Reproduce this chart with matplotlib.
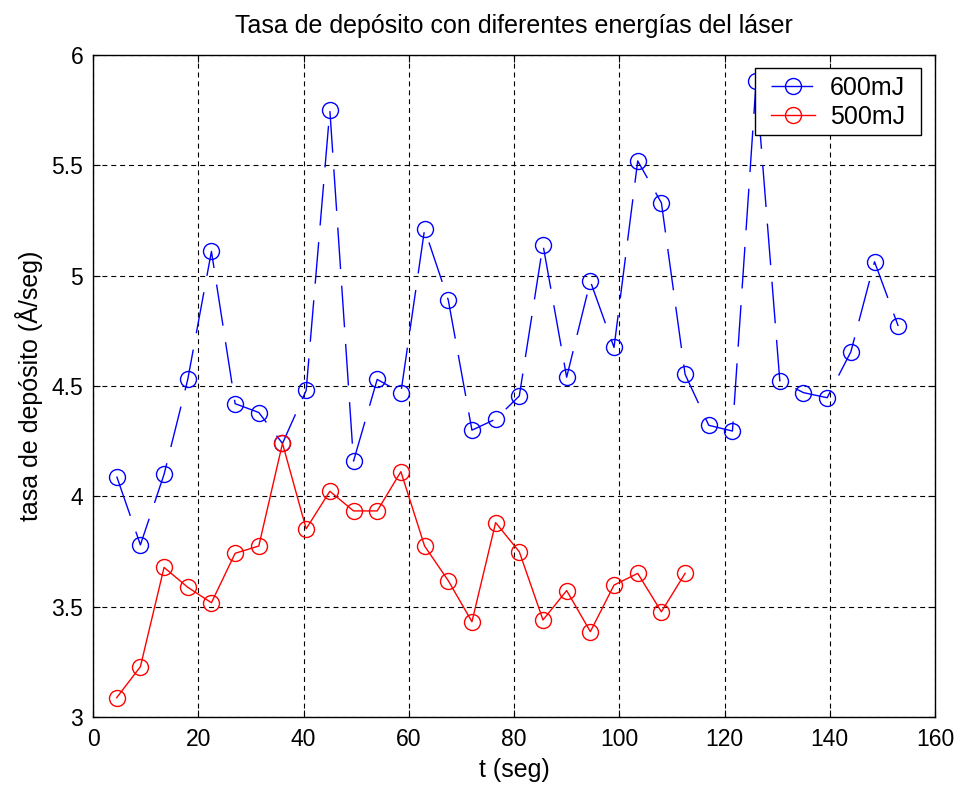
import matplotlib
matplotlib.use("Agg")
import matplotlib.pyplot as plt
from matplotlib.patches import Rectangle
import numpy as np

plt.rcParams['font.family'] = ['Liberation Sans', 'DejaVu Sans']

# Sampling times (s)
t_600 = [4.5 * (i + 1) for i in range(34)]
t_500 = [4.5 * (i + 1) for i in range(25)]

# Deposition rate (Å/seg) for each laser energy
rate_600 = [4.09, 3.78, 4.10, 4.53, 5.11, 4.42, 4.38, 4.24, 4.48, 5.75,
            4.16, 4.53, 4.47, 5.21, 4.89, 4.30, 4.35, 4.455, 5.14, 4.54,
            4.975, 4.675, 5.52, 5.33, 4.553, 4.322, 4.296, 5.88, 4.524, 4.47,
            4.447, 4.655, 5.063, 4.772]
rate_500 = [3.088, 3.228, 3.678, 3.588, 3.518, 3.742, 3.775, 4.24, 3.853, 4.023,
            3.934, 3.934, 4.112, 3.775, 3.618, 3.432, 3.881, 3.749, 3.44, 3.573,
            3.387, 3.598, 3.651, 3.477, 3.651]

title = "Tasa de depósito con diferentes energías del láser"
xlabel = "t (seg)"
ylabel = "tasa de depósito (Å/seg)"
xticks = [0, 20, 40, 60, 80, 100, 120, 140, 160]
yticks = [3, 3.5, 4, 4.5, 5, 5.5, 6]
yticklabels = ["3", "3.5", "4", "4.5", "5", "5.5", "6"]

fig = plt.figure(figsize=(9.61, 7.87), dpi=100)
ax = fig.add_axes([0.0968, 0.0889, 0.8762, 0.8412])

ax.plot(t_600, rate_600, color='#0000ff', lw=1.0, marker='o', ms=11.5,
        mfc='none', mew=1.0, dashes=(30, 12), label='600mJ')
ax.plot(t_500, rate_500, color='#ff0000', lw=1.0, marker='o', ms=11.5,
        mfc='none', mew=1.0, label='500mJ')

ax.set_xlim(0, 160)
ax.set_ylim(3, 6)
ax.set_xticks(xticks)
ax.set_yticks(yticks)
ax.set_yticklabels(yticklabels)
ax.tick_params(direction='in', top=True, right=True, length=5, width=0.8,
               labelsize=16.5)
ax.tick_params(axis='x', pad=8)
ax.tick_params(axis='y', pad=7)
ax.grid(True, color='black', lw=0.8, dashes=(4.5, 3.5))
for s in ax.spines.values():
    s.set_linewidth(1.0)

ax.set_title(title, fontsize=18, pad=16)
ax.set_xlabel(xlabel, fontsize=18, labelpad=5)
ax.set_ylabel(ylabel, fontsize=18, labelpad=6)

# Legend box drawn as a separate frame so the entries sit centred inside it
box = Rectangle((0.7862, 0.8792), 0.1972, 0.1012, transform=ax.transAxes,
                facecolor='white', edgecolor='black', lw=1.0, zorder=4.5)
ax.add_patch(box)
leg = ax.legend(loc='upper right', bbox_to_anchor=(0.9735, 0.980), fontsize=18,
                frameon=False, handlelength=1.75, borderaxespad=0,
                borderpad=0.3, labelspacing=0.2, handletextpad=0.6)
leg.set_zorder(5)

fig.savefig("out.png", dpi=100)
